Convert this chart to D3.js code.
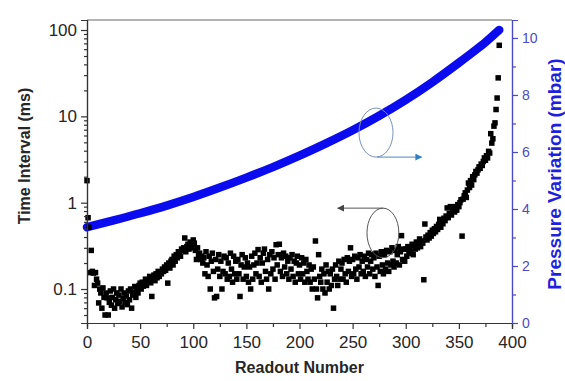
<!DOCTYPE html>
<html>
<head>
<meta charset="utf-8">
<script src="https://cdn.jsdelivr.net/npm/d3@7/dist/d3.min.js"></script>
<style>
  html, body { margin: 0; padding: 0; background: #fff; }
  svg { display: block; font-family: "Liberation Sans", Arial, sans-serif; }
</style>
</head>
<body>
<svg id="chart" width="565" height="381"></svg>
<script>
// ---------- data ----------
// Time interval (ms), one value per readout number (index = readout)
const timeInterval = [
  1.8, 0.67, 0.52, 0.155, 0.28, 0.16, 0.153, 0.11, 0.155, 0.13,
  0.117, 0.069, 0.1, 0.09, 0.06, 0.103, 0.08, 0.05, 0.09, 0.079,
  0.05, 0.07, 0.095, 0.065, 0.08, 0.1, 0.06, 0.075, 0.09, 0.068,
  0.085, 0.072, 0.1, 0.062, 0.078, 0.09, 0.07, 0.083, 0.066, 0.095,
  0.075, 0.1, 0.06, 0.085, 0.092, 0.107, 0.08, 0.1, 0.09, 0.11,
  0.117, 0.1, 0.12, 0.108, 0.115, 0.13, 0.11, 0.125, 0.12, 0.14,
  0.118, 0.082, 0.13, 0.145, 0.125, 0.15, 0.135, 0.16, 0.14, 0.155,
  0.15, 0.17, 0.16, 0.18, 0.165, 0.19, 0.117, 0.2, 0.175, 0.21,
  0.22, 0.19, 0.24, 0.21, 0.25, 0.23, 0.27, 0.26, 0.24, 0.29,
  0.28, 0.3, 0.39, 0.27, 0.31, 0.33, 0.29, 0.35, 0.3, 0.32,
  0.37, 0.34, 0.28, 0.22, 0.3, 0.25, 0.26, 0.22, 0.24, 0.2,
  0.23, 0.15, 0.27, 0.19, 0.14, 0.24, 0.1, 0.21, 0.26, 0.16,
  0.079, 0.22, 0.082, 0.17, 0.25, 0.14, 0.21, 0.1, 0.16, 0.24,
  0.15, 0.23, 0.13, 0.2, 0.14, 0.26, 0.17, 0.12, 0.24, 0.15,
  0.21, 0.13, 0.22, 0.15, 0.082, 0.19, 0.25, 0.13, 0.18, 0.23,
  0.14, 0.2, 0.12, 0.18, 0.1, 0.24, 0.13, 0.19, 0.26, 0.15,
  0.2, 0.286, 0.14, 0.23, 0.12, 0.2, 0.26, 0.29, 0.16, 0.13,
  0.22, 0.1, 0.25, 0.15, 0.27, 0.17, 0.23, 0.13, 0.326, 0.19,
  0.25, 0.33, 0.16, 0.23, 0.14, 0.26, 0.18, 0.24, 0.15, 0.21,
  0.13, 0.23, 0.17, 0.25, 0.14, 0.21, 0.12, 0.2, 0.24, 0.15,
  0.19, 0.13, 0.23, 0.15, 0.2, 0.12, 0.22, 0.16, 0.13, 0.19,
  0.12, 0.17, 0.1, 0.18, 0.13, 0.36, 0.1, 0.079, 0.25, 0.14,
  0.12, 0.17, 0.1, 0.15, 0.09, 0.19, 0.12, 0.16, 0.1, 0.15,
  0.11, 0.17, 0.06, 0.13, 0.19, 0.14, 0.11, 0.21, 0.13, 0.17,
  0.2, 0.13, 0.22, 0.15, 0.12, 0.23, 0.16, 0.21, 0.3, 0.14,
  0.22, 0.15, 0.24, 0.17, 0.13, 0.23, 0.18, 0.25, 0.15, 0.21,
  0.16, 0.24, 0.14, 0.22, 0.18, 0.26, 0.15, 0.21, 0.25, 0.17,
  0.23, 0.14, 0.26, 0.18, 0.11, 0.24, 0.16, 0.27, 0.19, 0.15,
  0.25, 0.17, 0.28, 0.2, 0.16, 0.27, 0.19, 0.3, 0.21, 0.18,
  0.28, 0.2, 0.25, 0.31, 0.19, 0.27, 0.415, 0.22, 0.29, 0.21,
  0.29, 0.24, 0.31, 0.26, 0.3, 0.27, 0.33, 0.25, 0.32, 0.29,
  0.35, 0.3, 0.33, 0.38, 0.31, 0.36, 0.34, 0.128, 0.566, 0.4,
  0.37, 0.42, 0.39, 0.45, 0.41, 0.48, 0.44, 0.5, 0.46, 0.53,
  0.49, 0.56, 0.64, 0.52, 0.6, 0.57, 0.66, 0.62, 0.7, 0.87,
  0.67, 0.75, 0.9, 0.72, 0.8, 0.85, 0.78, 0.9, 0.82, 0.95,
  0.9, 1.0, 1.08, 0.41, 1.1, 1.2, 1.3, 1.15, 1.4, 1.69,
  1.5, 1.8, 1.6, 2.0, 1.85, 2.1, 2.3, 2.2, 2.4, 2.6,
  2.5, 2.8, 2.7, 3.0, 3.3, 3.1, 3.5, 3.3, 3.93, 3.76,
  6.3, 4.9, 5.5, 7.7, 8.4, 12, 16.3, 27.9, 66.5
];

// Pressure variation (mbar), read at these readout numbers
const pressureReadouts = [0, 25, 50, 75, 100, 125, 150, 175, 200, 225, 250, 275, 300, 325, 350, 375, 388];
const pressureValues   = [3.36, 3.6, 3.85, 4.12, 4.42, 4.75, 5.1, 5.47, 5.87, 6.3, 6.76, 7.27, 7.83, 8.45, 9.13, 9.85, 10.28];

// Tick values
const xMajorTicks = [0, 50, 100, 150, 200, 250, 300, 350, 400];
const xMinorTicks = [25, 75, 125, 175, 225, 275, 325, 375];
const yLeftMajorTicks = [0.1, 1, 10, 100];
const yRightMajorTicks = [0, 2, 4, 6, 8, 10];
const yRightMinorTicks = [1, 3, 5, 7, 9];

// ---------- layout ----------
const plot = { left: 87, right: 512, top: 20, bottom: 323 };

const svg = d3.select("#chart");

const x = d3.scaleLinear().domain([0, 400]).range([plot.left, plot.right]);
const yL = d3.scaleLog().domain([0.0404, 130.6]).range([plot.bottom, plot.top]);
const yR = d3.scaleLinear().domain([0, 10.63]).range([plot.bottom, plot.top]);

const axisColor = "#333";
const textColor = "#262626";
const rightColor = "#4a4ac4";

// top frame line
svg.append("line")
  .attr("x1", plot.left).attr("x2", plot.right)
  .attr("y1", plot.top).attr("y2", plot.top)
  .attr("stroke", "#666").attr("stroke-width", 1);

// ---------- pressure curve (right axis) ----------
const pData = pressureReadouts.map((r, i) => ({ r, p: pressureValues[i] }));
svg.append("path")
  .datum(pData)
  .attr("fill", "none")
  .attr("stroke", "#0b0bef")
  .attr("stroke-width", 8.5)
  .attr("stroke-linecap", "round")
  .attr("d", d3.line().x(d => x(d.r)).y(d => yR(d.p)).curve(d3.curveCatmullRom.alpha(0.5)));

// ---------- time interval scatter (left axis) ----------
const sq = 5.5;
svg.append("g")
  .selectAll("rect")
  .data(timeInterval)
  .join("rect")
  .attr("x", (d, i) => x(i) - sq / 2)
  .attr("y", d => yL(d) - sq / 2)
  .attr("width", sq)
  .attr("height", sq)
  .attr("fill", "#000");

// ---------- axes ----------
function styleAxis(g, color, tcolor, size) {
  g.select(".domain").attr("stroke", color).attr("stroke-width", 1.2);
  g.selectAll(".tick line").attr("stroke", color).attr("stroke-width", 1.2);
  g.selectAll(".tick text").attr("fill", tcolor).attr("font-size", size + "px");
}

// bottom
const gxMinor = svg.append("g").attr("transform", `translate(0,${plot.bottom})`)
  .call(d3.axisBottom(x).tickValues(xMinorTicks).tickSize(4).tickFormat(""));
styleAxis(gxMinor, axisColor, textColor, 17);
const gx = svg.append("g").attr("transform", `translate(0,${plot.bottom})`)
  .call(d3.axisBottom(x).tickValues(xMajorTicks).tickSize(6).tickPadding(7).tickFormat(d3.format("d")));
styleAxis(gx, axisColor, textColor, 17);

// left (log)
const leftMinor = yL.ticks().filter(v => !yLeftMajorTicks.some(m => Math.abs(m - v) / m < 1e-6));
const gyMinor = svg.append("g").attr("transform", `translate(${plot.left},0)`)
  .call(d3.axisLeft(yL).tickValues(leftMinor).tickSize(3).tickFormat(""));
styleAxis(gyMinor, axisColor, textColor, 17);
const gy = svg.append("g").attr("transform", `translate(${plot.left},0)`)
  .call(d3.axisLeft(yL).tickValues(yLeftMajorTicks).tickSize(6).tickPadding(4).tickFormat(d => String(d)));
styleAxis(gy, axisColor, textColor, 17);

// right (linear)
const grMinor = svg.append("g").attr("transform", `translate(${plot.right},0)`)
  .call(d3.axisRight(yR).tickValues(yRightMinorTicks).tickSize(4).tickFormat(""));
styleAxis(grMinor, rightColor, rightColor, 14);
const gr = svg.append("g").attr("transform", `translate(${plot.right},0)`)
  .call(d3.axisRight(yR).tickValues(yRightMajorTicks).tickSize(6).tickPadding(4).tickFormat(d3.format("d")));
styleAxis(gr, rightColor, rightColor, 14);

// ---------- axis titles ----------
svg.append("text")
  .attr("x", (plot.left + plot.right) / 2).attr("y", 373)
  .attr("text-anchor", "middle")
  .attr("font-size", "16px").attr("font-weight", "bold").attr("fill", textColor)
  .text("Readout Number");

svg.append("text")
  .attr("transform", `translate(30,156) rotate(-90)`)
  .attr("text-anchor", "middle")
  .attr("font-size", "16px").attr("font-weight", "bold").attr("fill", textColor)
  .text("Time Interval (ms)");

svg.append("text")
  .attr("transform", `translate(561,174) rotate(-90)`)
  .attr("text-anchor", "middle")
  .attr("font-size", "19px").attr("font-weight", "bold").attr("fill", "#1f1fe0")
  .text("Pressure Variation (mbar)");

// ---------- annotations (in data units) ----------
const defs = svg.append("defs");
function arrowMarker(id, color) {
  defs.append("marker")
    .attr("id", id).attr("viewBox", "0 0 10 10")
    .attr("refX", 9).attr("refY", 5)
    .attr("markerWidth", 7).attr("markerHeight", 7)
    .attr("markerUnits", "userSpaceOnUse")
    .attr("orient", "auto")
    .append("path").attr("d", "M0,0 L10,5 L0,10 Z").attr("fill", color);
}
arrowMarker("arrBlack", "#444");
arrowMarker("arrBlue", "#2f7fc4");

const annBlack = { r: 278.5, p: 3.16, rr: 15, pr: 0.87, arrowTo: 236 };
const annBlue  = { r: 272, p: 6.68, rr: 16, pr: 0.86, arrowTo: 315 };

// black ellipse -> left axis
svg.append("ellipse")
  .attr("cx", x(annBlack.r)).attr("cy", yR(annBlack.p))
  .attr("rx", x(annBlack.rr) - x(0)).attr("ry", yR(0) - yR(annBlack.pr))
  .attr("fill", "none").attr("stroke", "#555").attr("stroke-width", 1);
svg.append("line")
  .attr("x1", x(annBlack.r)).attr("y1", yR(annBlack.p + annBlack.pr))
  .attr("x2", x(annBlack.arrowTo)).attr("y2", yR(annBlack.p + annBlack.pr))
  .attr("stroke", "#555").attr("stroke-width", 1)
  .attr("marker-end", "url(#arrBlack)");

// blue ellipse -> right axis
svg.append("ellipse")
  .attr("cx", x(annBlue.r)).attr("cy", yR(annBlue.p))
  .attr("rx", x(annBlue.rr) - x(0)).attr("ry", yR(0) - yR(annBlue.pr))
  .attr("fill", "none").attr("stroke", "#7b93b8").attr("stroke-width", 1);
svg.append("line")
  .attr("x1", x(annBlue.r + 1)).attr("y1", yR(annBlue.p - annBlue.pr))
  .attr("x2", x(annBlue.arrowTo)).attr("y2", yR(annBlue.p - annBlue.pr))
  .attr("stroke", "#4a88c4").attr("stroke-width", 1)
  .attr("marker-end", "url(#arrBlue)");
</script>
</body>
</html>
